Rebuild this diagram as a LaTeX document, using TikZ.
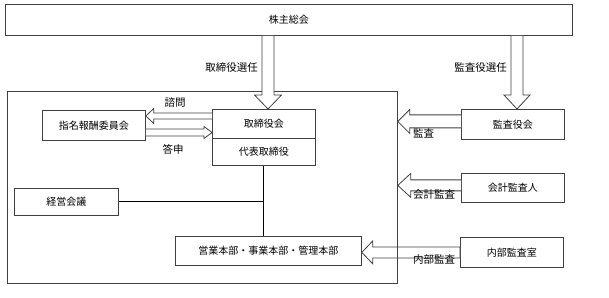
\documentclass[tikz,border=0pt]{standalone}
\usepackage{fontspec}
\setmainfont{Noto Sans CJK JP}
\usetikzlibrary{calc}
\definecolor{edge}{HTML}{404040}
\tikzset{
  box/.style={draw=edge, line width=0.8pt, fill=white, inner sep=0pt, font=\fontsize{10}{12}\selectfont},
  lbl/.style={inner sep=0pt, font=\fontsize{10.5}{12}\selectfont},
  blk/.style={draw=edge, line width=0.8pt, fill=white, line join=miter},
  conn/.style={draw=black, line width=1pt}
}
\newcommand{\mkbox}[6]{% name, x1, y1(img), x2, y2(img), text
  \node[box, minimum width=#4pt-#2pt, minimum height=#5pt-#3pt, anchor=north west] (#1) at (#2,297-#3) {#6};}
\begin{document}
\begin{tikzpicture}[x=1pt,y=1pt]
\useasboundingbox (0,0) rectangle (609,297);
% boxes
\mkbox{kabu}{5}{4}{572}{35}{株主総会}
\mkbox{tori}{212}{109}{315}{138}{取締役会}
\mkbox{daihyo}{212}{138}{315}{165}{代表取締役}
\mkbox{shimei}{42}{110}{145}{140}{指名報酬委員会}
\mkbox{kansa}{461}{109}{564}{139}{監査役会}
\mkbox{kaikei}{461}{173}{564}{202}{会計監査人}
\mkbox{naibu}{460}{237}{563}{267}{内部監査室}
\mkbox{keiei}{14}{188}{118}{215}{経営会議}
\mkbox{eigyo}{175}{236}{361}{265}{営業本部・事業本部・管理本部}
% internal audit arrow (outer box drawn over it)
\draw[blk] let \p1=(naibu.west), \p2=(eigyo.east) in
  (\x1,\y1+5.5) -- (\x2+11,\y1+5.5) -- (\x2+11,\y1+11.5) -- (\x2,\y1) -- (\x2+11,\y1-11.5) -- (\x2+11,\y1-5.5) -- (\x1,\y1-5.5) -- cycle;
% outer frame
\node[draw=edge, line width=0.8pt, minimum width=390pt, minimum height=192pt, anchor=north west, inner sep=0pt] (frame) at (7,297-91) {};
% vertical down arrows
\draw[blk] let \p1=(kabu.south), \p2=(tori.north) in
  (268-6,\y1) -- (268-6,\y2+14) -- (268-13.5,\y2+14) -- (268,\y2) -- (268+13.5,\y2+14) -- (268+6,\y2+14) -- (268+6,\y1);
\draw[blk] let \p1=(kabu.south), \p2=(kansa.north) in
  (517-6,\y1) -- (517-6,\y2+14) -- (517-13,\y2+14) -- (517,\y2) -- (517+13,\y2+14) -- (517+6,\y2+14) -- (517+6,\y1);
% audit arrows to frame
\draw[blk] let \p1=($(kansa.west)+(0,3)$), \p2=(frame.east) in
  (\x1,\y1+6.5) -- (\x2+12,\y1+6.5) -- (\x2+12,\y1+12) -- (\x2,\y1) -- (\x2+12,\y1-12) -- (\x2+12,\y1-6.5) -- (\x1,\y1-6.5);
\draw[blk] let \p1=($(kaikei.west)+(0,2.5)$), \p2=(frame.east) in
  (\x1,\y1+5.5) -- (\x2+13,\y1+5.5) -- (\x2+13,\y1+12) -- (\x2,\y1) -- (\x2+13,\y1-12) -- (\x2+13,\y1-5.5) -- (\x1,\y1-5.5);
% consult / report arrows
\draw[blk] let \p1=(tori.west), \p2=(shimei.east) in
  (\x1,297-116+3) -- (\x2+8,297-116+3) -- (\x2+8,297-116+7.5) -- (\x2,297-116) -- (\x2+8,297-116-7.5) -- (\x2+8,297-116-3) -- (\x1,297-116-3);
\draw[blk] let \p1=(shimei.east), \p2=(tori.west) in
  (\x1,297-132.5+3.5) -- (\x2-8,297-132.5+3.5) -- (\x2-8,297-132.5+6) -- (\x2,297-132.5) -- (\x2-8,297-132.5-6) -- (\x2-8,297-132.5-3.5) -- (\x1,297-132.5-3.5);
% lines
\coordinate (j) at (daihyo.south |- keiei.east);
\draw[conn] (daihyo.south) -- (daihyo.south |- eigyo.north);
\draw[conn] (keiei.east) -- (j);
% labels
\node[lbl, anchor=east] (l1) at (258,297-68) {取締役選任};
\node[lbl, anchor=east] (l2) at (507,297-68) {監査役選任};
\node[lbl] (l3) at (175,297-103) {諮問};
\node[lbl] (l4) at (173,297-149) {答申};
\node[lbl, anchor=west] (l5) at (413,297-133) {監査};
\node[lbl, anchor=west] (l6) at (413,297-195) {会計監査};
\node[lbl, anchor=west] (l7) at (413,297-260) {内部監査};
\end{tikzpicture}
\end{document}
